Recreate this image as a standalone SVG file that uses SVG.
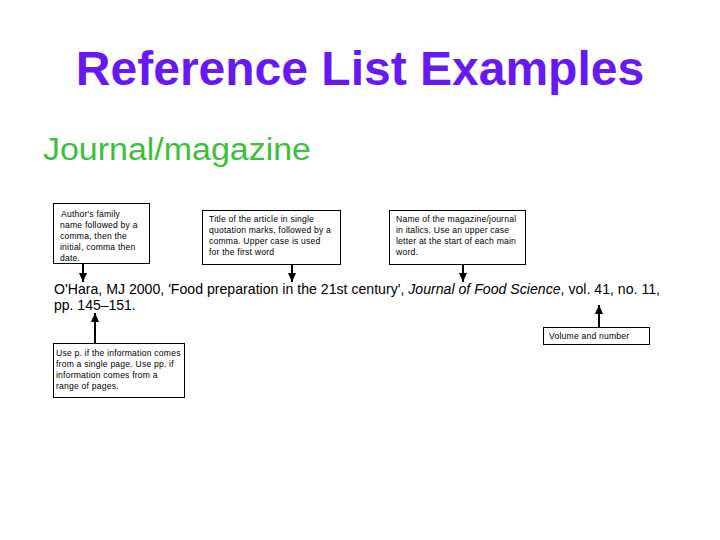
<svg xmlns="http://www.w3.org/2000/svg" width="720" height="540" viewBox="0 0 720 540">
<defs>
<marker id="ah" markerWidth="9" markerHeight="8" refX="9" refY="4" orient="auto" markerUnits="userSpaceOnUse" viewBox="0 0 9 8">
<path d="M0,0 L9,4 L0,8 Z" fill="#000"/>
</marker>
<style>
.box{fill:#fff;stroke:#000;stroke-width:1}
.bt{font-family:"Liberation Sans",Arial,sans-serif;font-size:8.6px;letter-spacing:0.2px;fill:#000}
.cit{font-family:"Liberation Sans",Arial,sans-serif;font-size:14px;fill:#000}
.con{stroke:#000;stroke-width:2;fill:none}
</style>
</defs>
<rect width="720" height="540" fill="#fff"/>
<text x="360" y="85" text-anchor="middle" font-family="Liberation Sans,Arial,sans-serif" font-weight="bold" font-size="48" fill="#6419F5">Reference List Examples</text>
<text x="43" y="160" font-family="Liberation Sans,Arial,sans-serif" font-size="31" fill="#3DBE3D" textLength="268" lengthAdjust="spacingAndGlyphs">Journal/magazine</text>

<g id="connectors">
<line class="con" x1="83" y1="264" x2="83" y2="282" marker-end="url(#ah)"/>
<line class="con" x1="292" y1="265" x2="292" y2="282" marker-end="url(#ah)"/>
<line class="con" x1="463" y1="265" x2="463" y2="282" marker-end="url(#ah)"/>
<line class="con" x1="95" y1="343" x2="95" y2="313" marker-end="url(#ah)"/>
<line class="con" x1="599" y1="327" x2="599" y2="305" marker-end="url(#ah)"/>
</g>

<g id="author">
<rect class="box" x="53.5" y="203.5" width="96" height="60"/>
<text class="bt" x="61" y="217"> Author's family</text>
<text class="bt" x="60" y="228">name followed by a</text>
<text class="bt" x="60" y="239">comma, then the</text>
<text class="bt" x="60" y="250">initial, comma then</text>
<text class="bt" x="60" y="261">date.</text>
</g>

<g id="title">
<rect class="box" x="202.5" y="210.5" width="138" height="54"/>
<text class="bt" x="209" y="222">Title of the article in single</text>
<text class="bt" x="209" y="233">quotation marks, followed by a</text>
<text class="bt" x="209" y="244">comma. Upper case is used</text>
<text class="bt" x="209" y="255">for the first word</text>
</g>

<g id="journal">
<rect class="box" x="389.5" y="210.5" width="136" height="54"/>
<text class="bt" x="396" y="222">Name of the magazine/journal</text>
<text class="bt" x="396" y="233">in italics. Use an upper case</text>
<text class="bt" x="396" y="244">letter at the start of each main</text>
<text class="bt" x="396" y="255">word.</text>
</g>

<g id="citation">
<text class="cit" x="54" y="294" textLength="606" lengthAdjust="spacingAndGlyphs">O'Hara, MJ 2000, 'Food preparation in the 21st century', <tspan font-style="italic">Journal of Food Science</tspan>, vol. 41, no. 11,</text>
<text class="cit" x="54" y="310">pp. 145–151.</text>
</g>

<g id="pages">
<rect class="box" x="53.5" y="343.5" width="131" height="54"/>
<text class="bt" x="56" y="356">Use p. if the information comes</text>
<text class="bt" x="56" y="367">from a single page. Use pp. if</text>
<text class="bt" x="56" y="378">information comes from a</text>
<text class="bt" x="56" y="389">range of pages.</text>
</g>

<g id="volume">
<rect class="box" x="543.5" y="327.5" width="106" height="17"/>
<text class="bt" x="549" y="339">Volume and number</text>
</g>
</svg>
